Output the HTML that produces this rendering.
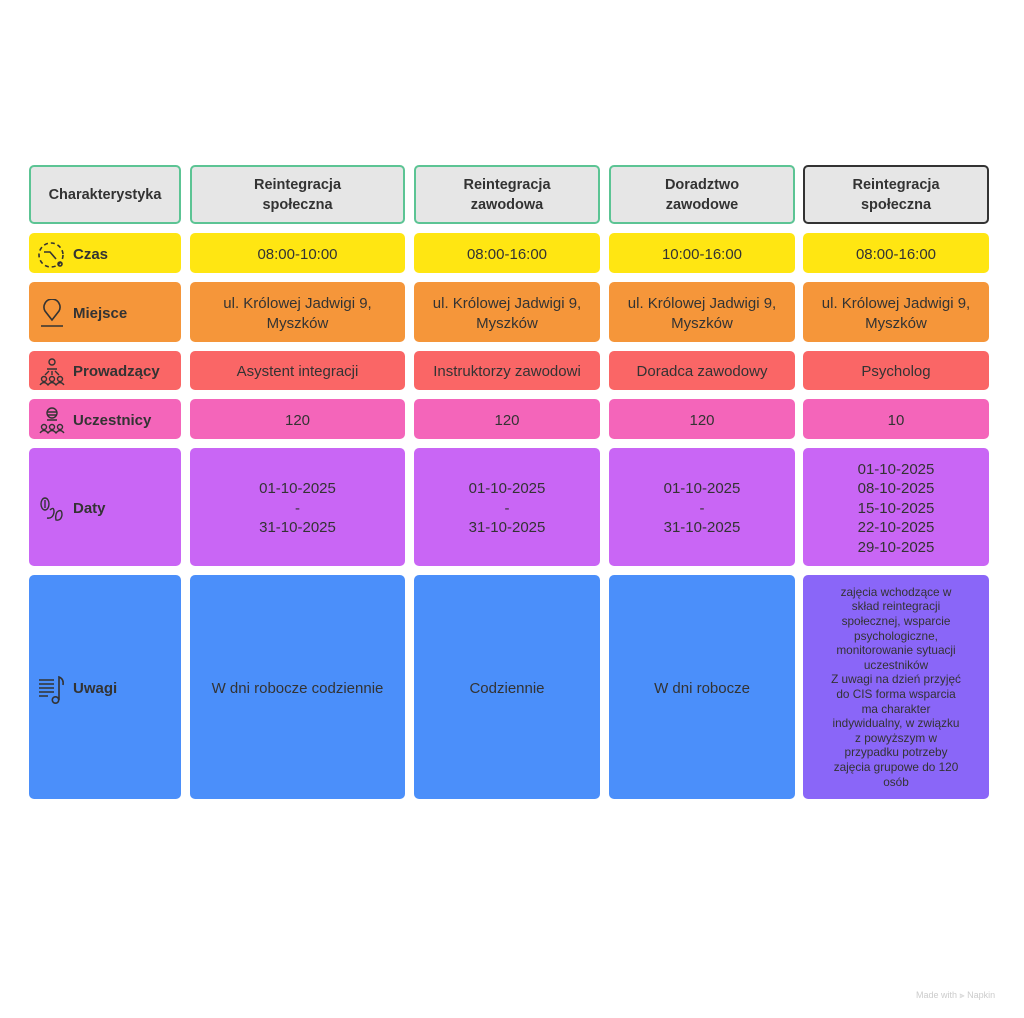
<!DOCTYPE html>
<html><head><meta charset="utf-8"><style>
html,body{margin:0;padding:0;background:#fff;}
body{width:1024px;height:1018px;position:relative;overflow:hidden;font-family:"Liberation Sans",sans-serif;color:#333;}
.c{position:absolute;border-radius:5px;display:flex;align-items:center;justify-content:center;text-align:center;font-size:15px;line-height:19.5px;box-sizing:border-box;padding-top:3px;}
.h{background:#e6e6e6;border:2px solid #5cc494;font-weight:bold;font-size:14.5px;line-height:20px;padding-top:1px;}
.l{justify-content:flex-start;padding-left:8px;font-weight:bold;font-size:15px;}
.l svg{margin-right:6px;flex:none;}
.y{background:#ffe612;}.o{background:#f5963a;}.r{background:#fa6666;}.p{background:#f465ba;}.v{background:#c966f5;}.b{background:#4b8ffa;}.u{background:#8a66f8;}
</style></head><body>
<div class="c h" style="left:29px;top:165px;width:152px;height:59px;">Charakterystyka</div>
<div class="c h" style="left:190px;top:165px;width:215px;height:59px;">Reintegracja<br>społeczna</div>
<div class="c h" style="left:414px;top:165px;width:186px;height:59px;">Reintegracja<br>zawodowa</div>
<div class="c h" style="left:609px;top:165px;width:186px;height:59px;">Doradztwo<br>zawodowe</div>
<div class="c h" style="left:803px;top:165px;width:186px;height:59px;border-color:#333;">Reintegracja<br>społeczna</div>

<div class="c l y" style="left:29px;top:233px;width:152px;height:40px;"><svg width="30" height="30" viewBox="0 0 30 30" fill="none" stroke="#333" stroke-width="1.6"><circle cx="14" cy="15" r="12" stroke-dasharray="4 3"/><path d="M7 12 L13 12 L19 19"/><circle cx="23" cy="24" r="2"/></svg>Czas</div>
<div class="c y" style="left:190px;top:233px;width:215px;height:40px;">08:00-10:00</div>
<div class="c y" style="left:414px;top:233px;width:186px;height:40px;">08:00-16:00</div>
<div class="c y" style="left:609px;top:233px;width:186px;height:40px;">10:00-16:00</div>
<div class="c y" style="left:803px;top:233px;width:186px;height:40px;">08:00-16:00</div>

<div class="c l o" style="left:29px;top:282px;width:152px;height:60px;"><svg width="30" height="30" viewBox="0 0 30 30" fill="none" stroke="#333" stroke-width="1.6"><path d="M15 21 L8 12 A8 8 0 1 1 22 12 Z"/><path d="M4 27 H26"/></svg>Miejsce</div>
<div class="c o" style="left:190px;top:282px;width:215px;height:60px;">ul. Królowej Jadwigi 9,<br>Myszków</div>
<div class="c o" style="left:414px;top:282px;width:186px;height:60px;">ul. Królowej Jadwigi 9,<br>Myszków</div>
<div class="c o" style="left:609px;top:282px;width:186px;height:60px;">ul. Królowej Jadwigi 9,<br>Myszków</div>
<div class="c o" style="left:803px;top:282px;width:186px;height:60px;">ul. Królowej Jadwigi 9,<br>Myszków</div>

<div class="c l r" style="left:29px;top:351px;width:152px;height:39px;"><svg width="30" height="30" viewBox="0 0 30 30" fill="none" stroke="#333" stroke-width="1.4"><circle cx="15" cy="5" r="3"/><path d="M10 12 H20 M12 14 L8 18 M15 14 V18 M18 14 L22 18"/><circle cx="7" cy="22" r="2.5"/><circle cx="15" cy="22" r="2.5"/><circle cx="23" cy="22" r="2.5"/><path d="M3 28 Q7 23 11 28 Q15 23 19 28 Q23 23 27 28"/></svg>Prowadzący</div>
<div class="c r" style="left:190px;top:351px;width:215px;height:39px;">Asystent integracji</div>
<div class="c r" style="left:414px;top:351px;width:186px;height:39px;">Instruktorzy zawodowi</div>
<div class="c r" style="left:609px;top:351px;width:186px;height:39px;">Doradca zawodowy</div>
<div class="c r" style="left:803px;top:351px;width:186px;height:39px;">Psycholog</div>

<div class="c l p" style="left:29px;top:399px;width:152px;height:40px;"><svg width="30" height="30" viewBox="0 0 30 30" fill="none" stroke="#333" stroke-width="1.4"><circle cx="15" cy="7" r="5"/><path d="M10 6 H20 M10 9 H20 M10 14 H20"/><circle cx="7" cy="21" r="2.5"/><circle cx="15" cy="21" r="2.5"/><circle cx="23" cy="21" r="2.5"/><path d="M3 27 Q7 22 11 27 Q15 22 19 27 Q23 22 27 27"/></svg>Uczestnicy</div>
<div class="c p" style="left:190px;top:399px;width:215px;height:40px;">120</div>
<div class="c p" style="left:414px;top:399px;width:186px;height:40px;">120</div>
<div class="c p" style="left:609px;top:399px;width:186px;height:40px;">120</div>
<div class="c p" style="left:803px;top:399px;width:186px;height:40px;">10</div>

<div class="c l v" style="left:29px;top:448px;width:152px;height:118px;"><svg width="30" height="30" viewBox="0 0 30 30" fill="none" stroke="#333" stroke-width="1.4"><ellipse cx="8" cy="10" rx="4" ry="6"/><path d="M8 6 V14"/><path d="M13 16 Q17 12 17 18 Q16 25 10 24"/><path d="M20 18 Q25 14 25 21 Q24 27 19 26 Q18 22 20 18"/></svg>Daty</div>
<div class="c v" style="left:190px;top:448px;width:215px;height:118px;">01-10-2025<br>-<br>31-10-2025</div>
<div class="c v" style="left:414px;top:448px;width:186px;height:118px;">01-10-2025<br>-<br>31-10-2025</div>
<div class="c v" style="left:609px;top:448px;width:186px;height:118px;">01-10-2025<br>-<br>31-10-2025</div>
<div class="c v" style="left:803px;top:448px;width:186px;height:118px;">01-10-2025<br>08-10-2025<br>15-10-2025<br>22-10-2025<br>29-10-2025</div>

<div class="c l b" style="left:29px;top:575px;width:152px;height:224px;"><svg width="30" height="30" viewBox="0 0 30 30" fill="none" stroke="#333" stroke-width="1.6"><path d="M2 6 H17 M2 10 H17 M2 14 H17 M2 18 H17 M2 22 H11"/><path d="M22 26 V3 Q27 5 26 11"/><circle cx="18.5" cy="26" r="3.2"/></svg>Uwagi</div>
<div class="c b" style="left:190px;top:575px;width:215px;height:224px;">W dni robocze codziennie</div>
<div class="c b" style="left:414px;top:575px;width:186px;height:224px;">Codziennie</div>
<div class="c b" style="left:609px;top:575px;width:186px;height:224px;">W dni robocze</div>
<div class="c u" style="left:803px;top:575px;width:186px;height:224px;font-size:11.8px;line-height:14.6px;padding:0 26px;">zajęcia wchodzące w skład reintegracji społecznej, wsparcie psychologiczne, monitorowanie sytuacji uczestników<br>Z uwagi na dzień przyjęć do CIS forma wsparcia ma charakter indywidualny, w związku z powyższym w przypadku potrzeby zajęcia grupowe do 120 osób</div>

<div style="position:absolute;left:916px;top:990px;font-size:9px;color:#ccc;">Made with ⫸ Napkin</div>
</body></html>
